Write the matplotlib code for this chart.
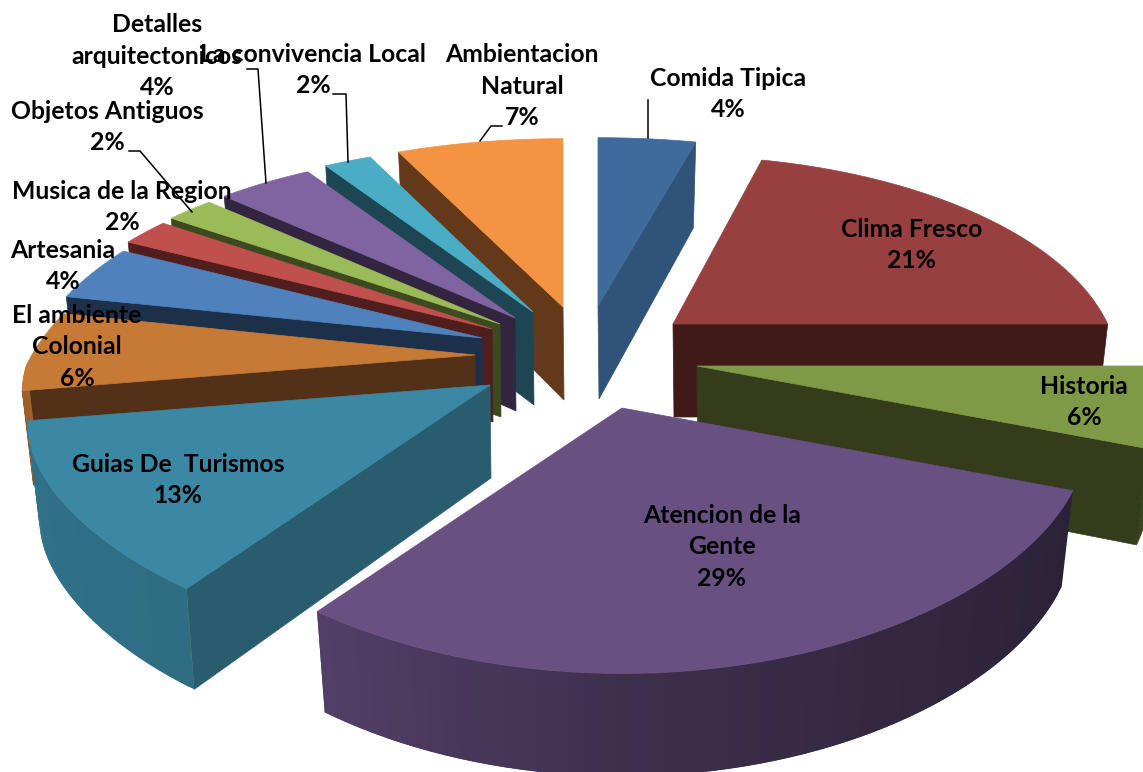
import numpy as np
import matplotlib
matplotlib.use('Agg')
import matplotlib.pyplot as plt
from matplotlib.collections import PolyCollection
from matplotlib.colors import to_rgb

# DATA (percent, clockwise from 12 o'clock)
categories = ["Comida Tipica", "Clima Fresco", "Historia", "Atencion de la\nGente",
              "Guias De  Turismos", "El ambiente\nColonial", "Artesania", "Musica de la Region",
              "Objetos Antiguos", "Detalles\narquitectonicos", "La convivencia Local",
              "Ambientacion\nNatural"]
values = [4, 21, 6, 29, 13, 6, 4, 2, 2, 4, 2, 7]

# COLOURS
top_colors = ['#3E6A9C', '#984040', '#7E9A46', '#685082', '#3A88A3', '#C77A36',
              '#4F81BD', '#C0504D', '#9BBB59', '#8064A2', '#4BACC6', '#F49442']
wall_colors = ['#2F5379', '#3F1A19', '#343C1C', '#2D2138', '#295C6E', '#533118',
               '#1D3049', '#4F1E1D', '#3D4A20', '#32253F', '#1D4652', '#63391A']

# LAYOUT: screen position of each exploded slice tip, width tweak, label centres, draw order
tips = [(598, 306), (673, 324), (697, 366), (622, 408), (490, 385), (475, 355),
        (482, 338), (492, 329), (500, 324), (515, 318), (533, 312), (563, 307)]
width_scale = [1.04, 0.945, 1.0, 1.0, 0.995, 0.975, 0.985, 1.0, 1.0, 1.0, 1.0, 1.01]
label_pos = [(728, 94), (912, 245), (1084, 402), (722, 547), (178, 480), (77, 347),
             (63, 266), (122, 207), (107, 127), (157, 56), (313, 70), (522, 86)]
draw_order = [11, 10, 9, 8, 7, 6, 5, 4, 0, 1, 2, 3]
leaders = [[(648, 100), (648, 138)],
           [(502, 126), (491, 126), (480, 141)],
           [(333, 94), (346, 94), (348, 162)],
           [(247, 69), (258, 69), (266, 183)],
           [(129, 151), (140, 151), (192, 212)]]

# PERSPECTIVE of the pie disc
RX, RY = 460, 206
K_Y, K_X_FAR, K_X_NEAR = 0.224, 0.224, 0.14
DEPTH = 93


def project(tip, deg, wscale):
    t = np.radians(deg)
    X, Y = np.sin(t), np.cos(t)
    sy = 1 / (1 + K_Y * Y)
    sx = 1 / (1 + np.where(Y > 0, K_X_FAR, K_X_NEAR) * Y)
    bump = 10 * np.exp(-((deg - 270) / 25.0) ** 2)
    x = tip[0] + RX * wscale * X * sx
    y = tip[1] - RY * Y * sy + bump
    # lower edge of the slice, a bit narrower and deeper when near
    bx = tip[0] + RX * wscale * X * sx * 0.975
    by = y + DEPTH * sy ** 0.4
    return x, y, bx, by


def rim_shade(deg):
    return np.interp(deg, [90, 111, 150, 180, 216, 270], [0.40, 0.42, 0.50, 0.60, 0.80, 0.85])


fig = plt.figure(figsize=(11.43, 7.72), dpi=100)
ax = fig.add_axes([0, 0, 1, 1])
ax.set_xlim(0, 1143)
ax.set_ylim(772, 0)
ax.axis('off')

edges = np.concatenate([[0], np.cumsum(values)]) * 360.0 / sum(values)

for z, i in enumerate(draw_order):
    start, end = edges[i], edges[i + 1]
    tip = tips[i]
    angles = np.linspace(start, end, 80)
    x, y, bx, by = project(tip, angles, width_scale[i])

    # straight side wall that faces the viewer
    if end < 180 or start > 180:
        j = -1 if end < 180 else 0
        wall = [tip, (x[j], y[j]), (bx[j], by[j]), (tip[0] + 1, tip[1] + DEPTH)]
        ax.fill(*zip(*wall), color=wall_colors[i], lw=0.5, zorder=z + 1)

    # curved outer side, shaded along the rim (quads overlap so no seams show)
    a0, a1 = max(start, 90), min(end, 270)
    if a1 > a0:
        rim_a = np.linspace(a0, a1, 60)
        rx, ry, rbx, rby = project(tip, rim_a, width_scale[i])
        quads = []
        for k in range(len(rim_a) - 1):
            m = min(k + 2, len(rim_a) - 1)
            quads.append([(rx[k], ry[k]), (rx[m], ry[m]), (rbx[m], rby[m]), (rbx[k], rby[k])])
        shades = rim_shade(rim_a[:-1])
        cols = [tuple(np.array(to_rgb(top_colors[i])) * s) for s in shades]
        ax.add_collection(PolyCollection(quads, facecolors=cols, edgecolors='none', zorder=z + 1))

    # top face
    ax.fill(np.r_[tip[0], x], np.r_[tip[1], y], color=top_colors[i], lw=0.5, zorder=z + 1)

# leader lines
for pts in leaders:
    ax.plot(*zip(*pts), color='black', lw=1.1, zorder=30)

# labels
for name, val, (lx, ly) in zip(categories, values, label_pos):
    ax.text(lx, ly, f"{name}\n{val}%", ha='center', va='center', fontsize=17.8, fontweight='bold',
            family='Lato', color='black', linespacing=1.47, zorder=40)

fig.savefig('out.png', dpi=100)
